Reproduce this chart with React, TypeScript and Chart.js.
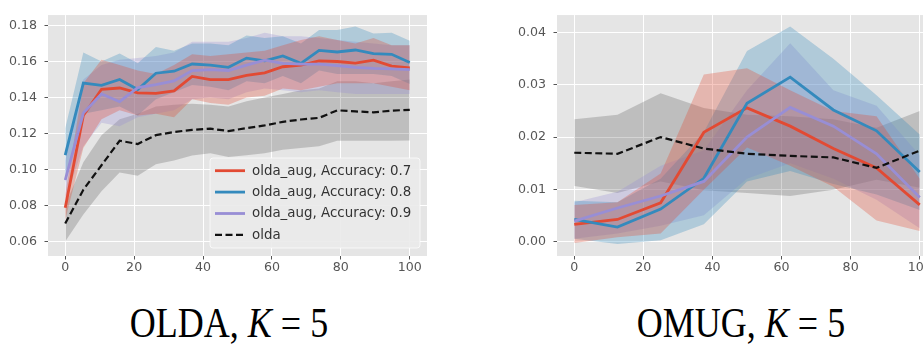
import React, { useEffect, useRef } from "react";
import { Chart, registerables } from "chart.js";

Chart.register(...registerables);

// ---------- data ----------
const X_OLDA = [0, 5.26, 10.53, 15.79, 21.05, 26.32, 31.58, 36.84, 42.11, 47.37, 52.63, 57.89, 63.16, 68.42, 73.68, 78.95, 84.21, 89.47, 94.74, 100];
const X_OMUG = [0, 12.5, 25, 37.5, 50, 62.5, 75, 87.5, 100];

const X_TICKS = [0, 20, 40, 60, 80, 100];
const Y_TICKS_OLDA = [0.06, 0.08, 0.1, 0.12, 0.14, 0.16, 0.18];
const Y_TICKS_OMUG = [0.0, 0.01, 0.02, 0.03, 0.04];

const LABELS = ["olda_aug, Accuracy: 0.7", "olda_aug, Accuracy: 0.8", "olda_aug, Accuracy: 0.9", "olda"];

// OLDA panel
const OLDA_07_MEAN = [0.0788, 0.130, 0.1446, 0.1453, 0.1426, 0.1423, 0.1437, 0.1517, 0.1499, 0.150, 0.1523, 0.1537, 0.1571, 0.158, 0.1604, 0.160, 0.1591, 0.1608, 0.1575, 0.1564];
const OLDA_07_LOW = [0.072, 0.112, 0.128, 0.133, 0.130, 0.131, 0.129, 0.139, 0.137, 0.136, 0.140, 0.141, 0.145, 0.144, 0.146, 0.148, 0.148, 0.148, 0.146, 0.144];
const OLDA_07_UP = [0.086, 0.148, 0.161, 0.158, 0.155, 0.153, 0.158, 0.164, 0.163, 0.164, 0.165, 0.166, 0.169, 0.172, 0.174, 0.172, 0.170, 0.173, 0.169, 0.169];

const OLDA_08_MEAN = [0.108, 0.148, 0.1468, 0.150, 0.1445, 0.1535, 0.1546, 0.1586, 0.158, 0.1568, 0.1619, 0.1604, 0.1631, 0.159, 0.1662, 0.1653, 0.1664, 0.1644, 0.164, 0.1595];
const OLDA_08_LOW = [0.093, 0.131, 0.133, 0.135, 0.130, 0.139, 0.143, 0.147, 0.146, 0.144, 0.149, 0.148, 0.152, 0.148, 0.155, 0.153, 0.153, 0.153, 0.152, 0.1475];
const OLDA_08_UP = [0.123, 0.165, 0.160, 0.1645, 0.159, 0.168, 0.166, 0.170, 0.170, 0.169, 0.1745, 0.173, 0.174, 0.170, 0.1775, 0.1775, 0.1795, 0.1755, 0.176, 0.1715];

const OLDA_09_MEAN = [0.0942, 0.1314, 0.142, 0.1377, 0.1455, 0.1472, 0.1492, 0.155, 0.1555, 0.155, 0.158, 0.1608, 0.159, 0.1586, 0.1586, 0.1577, 0.1568, 0.1562, 0.1559, 0.1555];
const OLDA_09_LOW = [0.083, 0.113, 0.126, 0.124, 0.129, 0.131, 0.133, 0.139, 0.140, 0.139, 0.143, 0.145, 0.144, 0.143, 0.144, 0.143, 0.142, 0.142, 0.142, 0.142];
const OLDA_09_UP = [0.105, 0.150, 0.158, 0.161, 0.162, 0.163, 0.165, 0.171, 0.171, 0.171, 0.173, 0.176, 0.174, 0.174, 0.173, 0.172, 0.171, 0.170, 0.169, 0.169];

const OLDA_BASE_MEAN = [0.0701, 0.0888, 0.1024, 0.116, 0.1142, 0.1191, 0.1209, 0.122, 0.1227, 0.1214, 0.123, 0.1245, 0.1265, 0.1278, 0.1287, 0.1329, 0.1323, 0.1318, 0.1327, 0.1332];
const OLDA_BASE_LOW = [0.060, 0.075, 0.088, 0.0984, 0.0965, 0.103, 0.105, 0.1078, 0.109, 0.107, 0.108, 0.109, 0.111, 0.112, 0.113, 0.116, 0.116, 0.116, 0.116, 0.1162];
const OLDA_BASE_UP = [0.080, 0.104, 0.119, 0.128, 0.131, 0.135, 0.136, 0.1365, 0.136, 0.135, 0.138, 0.140, 0.142, 0.144, 0.145, 0.149, 0.149, 0.148, 0.149, 0.150];

// OMUG panel
const OMUG_07_MEAN = [0.00325, 0.0042, 0.0074, 0.0209, 0.0256, 0.0221, 0.0178, 0.0141, 0.007];
const OMUG_07_LOW = [-0.0003, 0.0008, 0.0015, 0.0099, 0.018, 0.0145, 0.0105, 0.004, 0.002];
const OMUG_07_UP = [0.007, 0.0075, 0.013, 0.032, 0.0332, 0.029, 0.025, 0.024, 0.012];

const OMUG_08_MEAN = [0.0042, 0.00275, 0.0062, 0.0121, 0.0265, 0.0315, 0.0252, 0.0212, 0.0133];
const OMUG_08_LOW = [0.0005, -0.0005, 0.0002, 0.0033, 0.0115, 0.0135, 0.011, 0.009, 0.006];
const OMUG_08_UP = [0.0078, 0.0075, 0.012, 0.021, 0.0365, 0.0412, 0.035, 0.028, 0.0205];

const OMUG_09_MEAN = [0.0039, 0.0064, 0.0087, 0.0115, 0.020, 0.0257, 0.0221, 0.0168, 0.0084];
const OMUG_09_LOW = [0.0005, 0.0015, 0.003, 0.005, 0.012, 0.015, 0.012, 0.008, 0.0025];
const OMUG_09_UP = [0.0075, 0.0095, 0.0145, 0.0175, 0.029, 0.038, 0.029, 0.026, 0.0165];

const OMUG_BASE_MEAN = [0.017, 0.0168, 0.020, 0.0178, 0.0168, 0.0164, 0.0161, 0.0141, 0.0174];
const OMUG_BASE_LOW = [0.0106, 0.0093, 0.0115, 0.0098, 0.0093, 0.0087, 0.0099, 0.0118, 0.0103];
const OMUG_BASE_UP = [0.0234, 0.0243, 0.0284, 0.0256, 0.0243, 0.024, 0.0234, 0.0218, 0.025];

// ---------- styles ----------
const COLORS = ["#E24A33", "#348ABD", "#988ED5", "#111111"];
const BANDS = ["rgba(226,74,51,0.3)", "rgba(52,138,189,0.3)", "rgba(152,142,213,0.3)", "rgba(0,0,0,0.17)"];

type Series = { label: string; mean: number[]; low: number[]; up: number[]; color: string; band: string; dashed: boolean };

const OLDA_SERIES: Series[] = [
  { label: LABELS[0], mean: OLDA_07_MEAN, low: OLDA_07_LOW, up: OLDA_07_UP, color: COLORS[0], band: BANDS[0], dashed: false },
  { label: LABELS[1], mean: OLDA_08_MEAN, low: OLDA_08_LOW, up: OLDA_08_UP, color: COLORS[1], band: BANDS[1], dashed: false },
  { label: LABELS[2], mean: OLDA_09_MEAN, low: OLDA_09_LOW, up: OLDA_09_UP, color: COLORS[2], band: BANDS[2], dashed: false },
  { label: LABELS[3], mean: OLDA_BASE_MEAN, low: OLDA_BASE_LOW, up: OLDA_BASE_UP, color: COLORS[3], band: BANDS[3], dashed: true },
];

const OMUG_SERIES: Series[] = [
  { label: LABELS[0], mean: OMUG_07_MEAN, low: OMUG_07_LOW, up: OMUG_07_UP, color: COLORS[0], band: BANDS[0], dashed: false },
  { label: LABELS[1], mean: OMUG_08_MEAN, low: OMUG_08_LOW, up: OMUG_08_UP, color: COLORS[1], band: BANDS[1], dashed: false },
  { label: LABELS[2], mean: OMUG_09_MEAN, low: OMUG_09_LOW, up: OMUG_09_UP, color: COLORS[2], band: BANDS[2], dashed: false },
  { label: LABELS[3], mean: OMUG_BASE_MEAN, low: OMUG_BASE_LOW, up: OMUG_BASE_UP, color: COLORS[3], band: BANDS[3], dashed: true },
];

const LINE_W = 2.8;
const DASH_W = 2.2;
const DASH = [7, 3.5];
const TICK_FONT = { family: "'DejaVu Sans', sans-serif", size: 12.6 };

const bgPlugin = {
  id: "axesBg",
  beforeDraw(chart: any) {
    const { ctx, chartArea } = chart;
    ctx.save();
    ctx.fillStyle = "#E5E5E5";
    ctx.fillRect(chartArea.left, chartArea.top, chartArea.right - chartArea.left, chartArea.bottom - chartArea.top);
    ctx.restore();
  },
};

const legendPlugin = {
  id: "insideLegend",
  afterDatasetsDraw(chart: any, _args: any, opts: any) {
    if (!opts || !opts.items) return;
    const { ctx, chartArea } = chart;
    const w = 210, h = 90;
    const x0 = chartArea.right - 7 - w;
    const y0 = chartArea.bottom - 8 - h;
    ctx.save();
    ctx.beginPath();
    const r = 3;
    ctx.moveTo(x0 + r, y0);
    ctx.lineTo(x0 + w - r, y0);
    ctx.quadraticCurveTo(x0 + w, y0, x0 + w, y0 + r);
    ctx.lineTo(x0 + w, y0 + h - r);
    ctx.quadraticCurveTo(x0 + w, y0 + h, x0 + w - r, y0 + h);
    ctx.lineTo(x0 + r, y0 + h);
    ctx.quadraticCurveTo(x0, y0 + h, x0, y0 + h - r);
    ctx.lineTo(x0, y0 + r);
    ctx.quadraticCurveTo(x0, y0, x0 + r, y0);
    ctx.closePath();
    ctx.fillStyle = "rgba(234,234,234,0.9)";
    ctx.fill();
    ctx.strokeStyle = "rgba(255,255,255,0.7)";
    ctx.lineWidth = 1;
    ctx.stroke();
    opts.items.forEach((it: any, i: number) => {
      const cy = y0 + 12.7 + 21.4 * i;
      ctx.beginPath();
      ctx.strokeStyle = it.color;
      ctx.lineWidth = it.dashed ? DASH_W : LINE_W;
      ctx.setLineDash(it.dashed ? DASH : []);
      ctx.moveTo(x0 + 5, cy);
      ctx.lineTo(x0 + 35, cy);
      ctx.stroke();
      ctx.setLineDash([]);
      ctx.fillStyle = "#333333";
      ctx.font = "13.4px 'DejaVu Sans', sans-serif";
      ctx.textBaseline = "middle";
      ctx.textAlign = "left";
      ctx.fillText(it.label, x0 + 42, cy + 0.5);
    });
    ctx.restore();
  },
};

type PlotProps = {
  left: number; width: number; height: number; yAxisW: number; padRight: number;
  xs: number[]; series: Series[]; yMin: number; yMax: number; yTicks: number[]; showLegend: boolean;
};

function Plot(p: PlotProps) {
  const ref = useRef<HTMLCanvasElement | null>(null);
  useEffect(() => {
    if (!ref.current) return;
    const datasets: any[] = [];
    p.series.forEach((s) => {
      datasets.push({
        label: s.label + " upper",
        data: p.xs.map((x, i) => ({ x, y: s.up[i] })),
        borderWidth: 0, borderColor: "rgba(0,0,0,0)", pointRadius: 0, fill: false, order: 10,
      });
      datasets.push({
        label: s.label + " lower",
        data: p.xs.map((x, i) => ({ x, y: s.low[i] })),
        borderWidth: 0, borderColor: "rgba(0,0,0,0)", pointRadius: 0, fill: "-1", backgroundColor: s.band, order: 10,
      });
    });
    p.series.forEach((s, k) => {
      datasets.push({
        label: s.label,
        data: p.xs.map((x, i) => ({ x, y: s.mean[i] })),
        borderColor: s.color,
        borderWidth: s.dashed ? DASH_W : LINE_W,
        borderDash: s.dashed ? DASH : [],
        pointRadius: 0, fill: false, order: 4 - k,
      });
    });
    const chart = new Chart(ref.current, {
      type: "line",
      data: { datasets },
      plugins: [bgPlugin, legendPlugin],
      options: {
        animation: false,
        responsive: false,
        maintainAspectRatio: false,
        layout: { padding: { top: 10, right: p.padRight, left: 0, bottom: 0 } },
        elements: { line: { tension: 0 }, point: { radius: 0 } },
        plugins: {
          legend: { display: false },
          tooltip: { enabled: false },
          filler: { drawTime: "beforeDatasetsDraw" },
          insideLegend: p.showLegend ? { items: p.series.map((s) => ({ label: s.label, color: s.color, dashed: s.dashed })) } : {},
        } as any,
        scales: {
          x: {
            type: "linear", min: -5, max: 105,
            afterBuildTicks: (s: any) => { s.ticks = X_TICKS.map((v) => ({ value: v })); },
            afterFit: (s: any) => { s.height = 34; },
            ticks: { color: "#555555", font: TICK_FONT, padding: 1, maxRotation: 0, autoSkip: false, callback: (v: any) => String(Math.round(Number(v))) },
            grid: { color: "#FFFFFF", lineWidth: 1, tickColor: "#555555", tickLength: 3.5, tickWidth: 1 },
            border: { display: false },
          },
          y: {
            type: "linear", min: p.yMin, max: p.yMax,
            afterBuildTicks: (s: any) => { s.ticks = p.yTicks.map((v) => ({ value: v })); },
            afterFit: (s: any) => { s.width = p.yAxisW; },
            ticks: { color: "#555555", font: TICK_FONT, padding: 7.5, autoSkip: false, callback: (v: any) => Number(v).toFixed(2) },
            grid: { color: "#FFFFFF", lineWidth: 1, tickColor: "#555555", tickLength: 3.5, tickWidth: 1 },
            border: { display: false },
          },
        },
      } as any,
    });
    return () => chart.destroy();
  }, []);
  return (
    <canvas
      ref={ref}
      width={p.width}
      height={p.height}
      style={{ position: "absolute", left: p.left, top: 0, width: p.width, height: p.height }}
    />
  );
}

const captionStyle: React.CSSProperties = {
  position: "absolute",
  top: 307,
  width: 320,
  textAlign: "center",
  fontFamily: "'Liberation Serif', 'Times New Roman', serif",
  fontSize: 36,
  lineHeight: "36px",
  color: "#000",
  whiteSpace: "nowrap",
  transform: "scaleY(1.2)",
  transformOrigin: "50% 30px",
};

export default function App() {
  return (
    <div style={{ position: "fixed", left: 0, top: 0, width: 923, height: 346, overflow: "hidden", background: "#fff" }}>
      <Plot left={0} width={440} height={290} yAxisW={48} padRight={13} xs={X_OLDA} series={OLDA_SERIES}
        yMin={0.052} yMax={0.1858} yTicks={Y_TICKS_OLDA} showLegend={true} />
      <Plot left={480} width={470} height={290} yAxisW={77} padRight={13} xs={X_OMUG} series={OMUG_SERIES}
        yMin={-0.0028} yMax={0.0434} yTicks={Y_TICKS_OMUG} showLegend={false} />
      <div style={{ ...captionStyle, left: 229 - 160 }}>OLDA, <i>K</i> = 5</div>
      <div style={{ ...captionStyle, left: 741 - 160 }}>OMUG, <i>K</i> = 5</div>
    </div>
  );
}
